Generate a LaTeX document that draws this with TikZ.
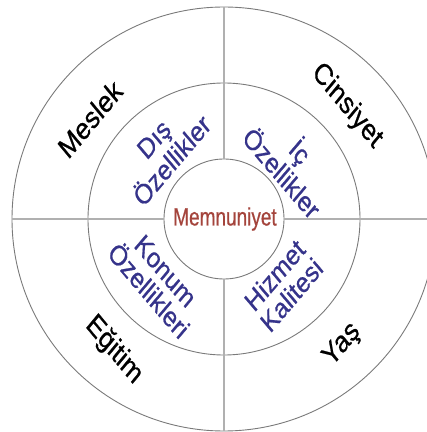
\documentclass[tikz,border=0pt]{standalone}
\usepackage{fontspec}
\setmainfont{Liberation Sans}
\newfontfamily\labelfont[FakeBold=0.7]{Liberation Sans}
\definecolor{ringgray}{HTML}{7A7A7A}
\definecolor{linegray}{HTML}{B0B0B0}
\definecolor{labelblue}{HTML}{35338A}
\definecolor{corered}{HTML}{A4443C}
\begin{document}
\begin{tikzpicture}[x=1pt,y=1pt,
  ring/.style={circle,draw=ringgray,line width=0.9pt,inner sep=0pt},
  divider/.style={draw=linegray,line width=1.4pt},
  outerlabel/.style={font=\labelfont\fontsize{30}{34}\selectfont,text=black,inner sep=0pt},
  innerlabel/.style={font=\labelfont\fontsize{28}{28}\selectfont,text=labelblue,align=center,inner sep=0pt},
  corelabel/.style={font=\labelfont\fontsize{25}{28}\selectfont,text=corered,xscale=0.76,inner sep=0pt}]
\useasboundingbox (0,0) rectangle (427,432);
\clip (0,0) rectangle (427,432);
\coordinate (ctr) at (224,213);
\node[ring,minimum size=424pt] (outer) at (ctr) {};
\node[ring,minimum size=272pt] (middle) at (ctr) {};
\node[ring,minimum size=120pt] (core) at (ctr) {};
\draw[divider] (core.north) -- (outer.north);
\draw[divider] (core.south) -- (outer.south);
\draw[divider] (core.west) -- (outer.west);
\draw[divider] (core.east) -- (outer.east);
\node[corelabel] (memnun) at (225,213) {Memnuniyet};
\node[outerlabel,xscale=0.83,rotate=45] (meslek) at (90,313) {Meslek};
\node[outerlabel,xscale=0.83,rotate=-45] (cinsiyet) at (347,326) {Cinsiyet};
\node[outerlabel,xscale=0.83,rotate=-45] (egitim) at (114,82) {Eğitim};
\node[outerlabel,xscale=0.83,rotate=45] (yas) at (342,87) {Yaş};
\node[innerlabel,xscale=0.85,rotate=45] (dis) at (163,282) {Dış\\Özellikler};
\node[innerlabel,xscale=0.85,rotate=-45] (ic) at (292,271) {İç\\Özellikler};
\node[innerlabel,xscale=0.85,rotate=-45] (konum) at (157,151) {Konum\\Özellikleri};
\node[innerlabel,xscale=0.85,rotate=45] (hizmet) at (283,147) {Hizmet\\Kalitesi};
\end{tikzpicture}
\end{document}
